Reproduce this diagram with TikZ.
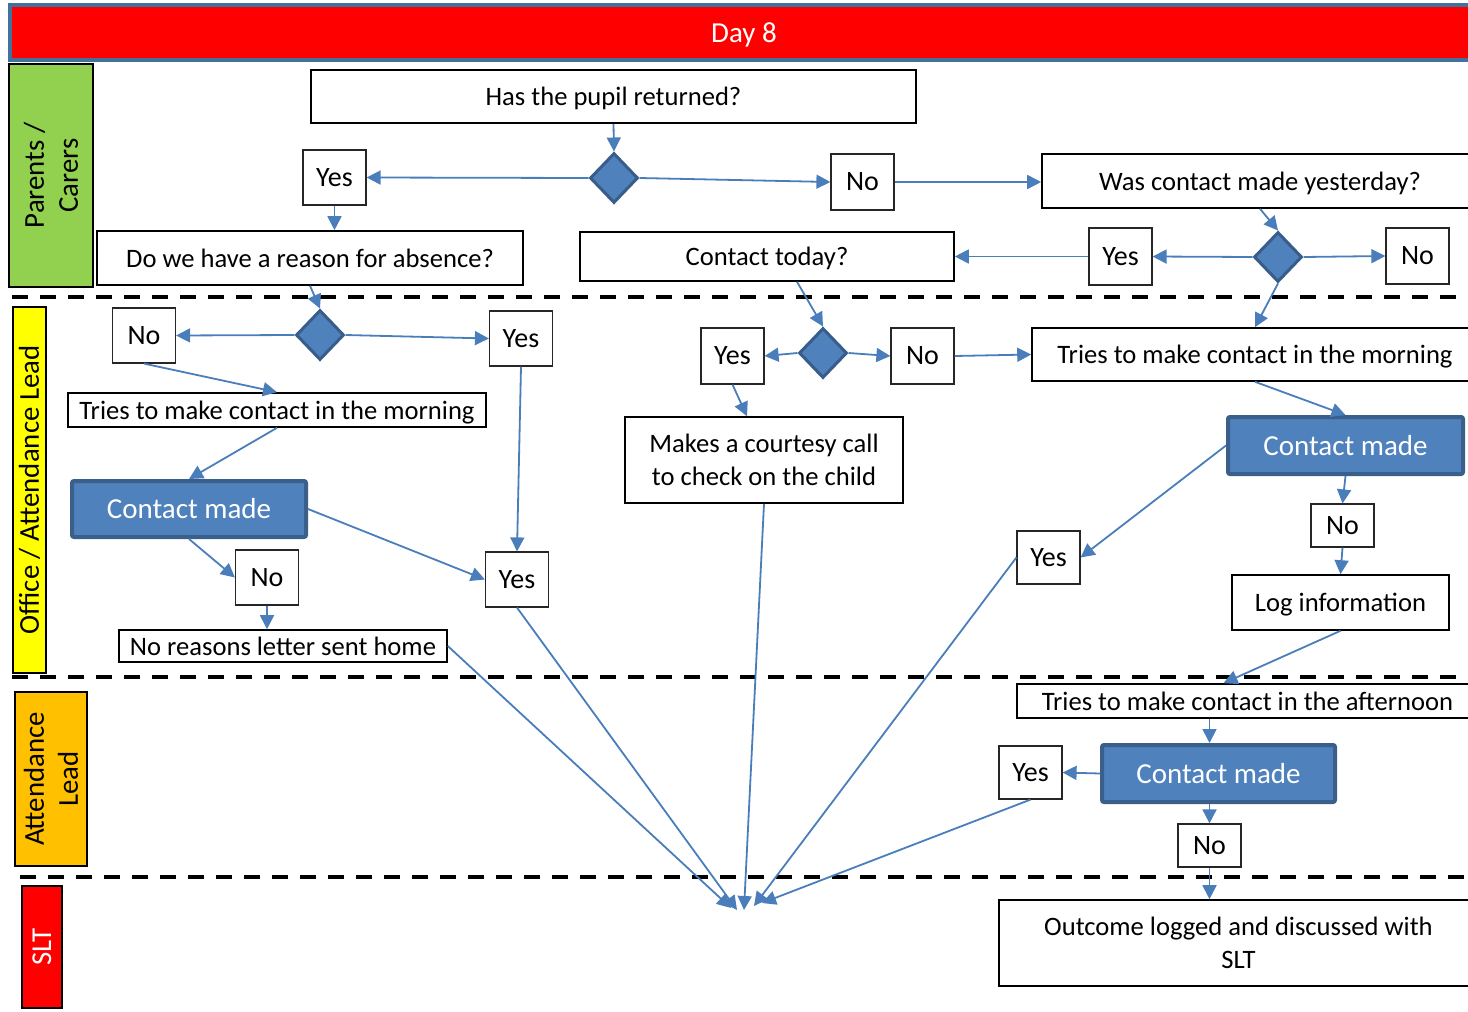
\documentclass[tikz,border=0pt]{standalone}
\usepackage{fontspec}
\setmainfont{Carlito}
\usetikzlibrary{shapes.geometric,arrows.meta}
\definecolor{flowblue}{HTML}{4A7EBB}
\definecolor{blockblue}{HTML}{4F81BD}
\definecolor{diamedge}{HTML}{385D8A}
\definecolor{madeedge}{HTML}{3A5F8B}
\definecolor{hdredge}{HTML}{41719C}
\definecolor{lanegreen}{HTML}{92D050}
\definecolor{laneyellow}{HTML}{FFFF00}
\definecolor{laneorange}{HTML}{FFC000}
\definecolor{lanered}{HTML}{FF0000}
\tikzset{
  box/.style={draw=black, line width=0.8pt, fill=white, inner sep=0pt, text depth=0pt, align=center, font=\fontsize{13.3}{16.5}\selectfont},
  yn/.style={draw=black!85, line width=0.6pt, fill=white, inner sep=0pt, minimum width=31.5pt, minimum height=27.5pt, font=\fontsize{14}{17}\selectfont},
  made/.style={draw=madeedge, line width=2pt, fill=blockblue, rounded corners=1pt, text=white, inner sep=0pt, minimum width=117pt, minimum height=28pt, font=\fontsize{14.5}{17}\selectfont},
  choice/.style={diamond, draw=diamedge, line width=1.5pt, fill=blockblue, minimum width=24pt, minimum height=25pt, inner sep=0pt},
  flow/.style={draw=flowblue, line width=0.9pt, -{Triangle[length=7pt,width=7pt]}},
  laneline/.style={draw=black, line width=2pt, dash pattern=on 8pt off 6pt},
  lane/.style={draw=black, line width=0.6pt, rotate=90, inner sep=0pt, align=center, font=\fontsize{14.4}{17}\selectfont},
}

\begin{document}
\begin{tikzpicture}[x=0.5pt, y=-0.5pt]
\useasboundingbox (0,0) rectangle (1468,1012);

% header
\node[draw=hdredge, line width=2pt, fill=red, text=white, minimum width=734pt, minimum height=27.5pt, inner sep=0pt,
      text depth=0pt, font=\fontsize{14.5}{17}\selectfont] (day) at (744,32.5) {Day 8};

% lanes
\node[lane, fill=lanegreen, minimum width=111.5pt, minimum height=42pt] (parents) at (51,175.5) {Parents /\\Carers};
\node[lane, fill=laneyellow, minimum width=183pt, minimum height=16.5pt] (office) at (29.5,490) {Office / Attendance Lead};
\node[lane, fill=laneorange, minimum width=87pt, minimum height=36pt] (attlead) at (51,779) {Attendance\\Lead};
\node[lane, fill=lanered, text=white, minimum width=61pt, minimum height=20pt] (slt) at (42,947) {SLT};
\draw[laneline] (12,297) -- (1468,297);
\draw[laneline] (12,677) -- (1468,677);
\draw[laneline] (20,877) -- (1468,877);

% parents / carers
\node[box, minimum width=302.5pt, minimum height=26.5pt] (ret) at (613.5,96.5) {Has the pupil returned?};
\node[choice] (d1) at (614,178) {};
\node[yn] (y1) at (334.5,177.5) {Yes};
\node[yn, minimum height=28pt] (n1) at (862.5,182) {No};
\node[box, minimum width=218pt, minimum height=27pt] (yest) at (1260,181) {Was contact made yesterday?};
\node[box, minimum width=213pt, minimum height=27pt] (reason) at (310,258) {Do we have a reason for absence?};
\node[box, minimum width=187pt, minimum height=24.5pt] (today) at (767,256.5) {Contact today?};
\node[yn, minimum height=28.5pt] (y2) at (1120.5,256.5) {Yes};
\node[choice] (d2) at (1278,257) {};
\node[yn, minimum height=28pt] (n2) at (1417.5,256) {No};

% office / attendance lead
\node[choice] (d3) at (320,335) {};
\node[yn] (n3) at (144,335.5) {No};
\node[yn] (y3) at (521,338.5) {Yes};
\node[box, minimum width=209pt, minimum height=17pt] (morn1) at (277,410) {Tries to make contact in the morning};
\node[made] (cm1) at (189,509) {Contact made};
\node[yn] (n4) at (267,577.5) {No};
\node[yn] (y4) at (517,579.5) {Yes};
\node[box, minimum width=164pt, minimum height=16pt] (letter) at (283,646) {No reasons letter sent home};
\node[choice] (d4) at (823,353) {};
\node[yn, minimum height=28pt] (y5) at (732.5,356) {Yes};
\node[yn, minimum height=28pt] (n5) at (922.5,356) {No};
\node[box, minimum width=139pt, minimum height=43pt] (courtesy) at (764,460) {Makes a courtesy call\\to check on the child};
\node[box, minimum width=223pt, minimum height=26.5pt] (morn2) at (1255,354.5) {Tries to make contact in the morning};
\node[made, minimum width=117.5pt, minimum height=28.5pt] (cm2) at (1345.5,445.5) {Contact made};
\node[yn, minimum height=26.5pt] (y6) at (1048.5,557.5) {Yes};
\node[yn, minimum height=21.5pt] (n6) at (1342.5,525.5) {No};
\node[box, minimum width=108.5pt, minimum height=27.5pt] (log) at (1340.5,602.5) {Log information};

% attendance lead
\node[box, minimum width=230.5pt, minimum height=17pt] (aft) at (1247.5,701) {Tries to make contact in the afternoon};
\node[made, minimum width=116.5pt, minimum height=28.5pt] (cm3) at (1218.5,773.5) {Contact made};
\node[yn, minimum height=26.5pt] (y7) at (1030.5,772.5) {Yes};
\node[yn, minimum height=21.5pt] (n7) at (1209.5,845.5) {No};

% slt
\node[box, minimum width=239.5pt, minimum height=43pt] (outcome) at (1238.5,943) {Outcome logged and discussed with\\SLT};
\coordinate (s1) at (731,908);
\coordinate (s2) at (737,910);
\coordinate (s3) at (744,910);
\coordinate (s4) at (754,906);
\coordinate (s5) at (762,903);

% connectors
\draw[flow] (ret.south) -- (d1.north);
\draw[flow] (d1.west) -- (y1.east);
\draw[flow] (d1.east) -- (n1.west);
\draw[flow] (y1.south) -- (y1.south |- reason.north);
\draw[flow] (n1.east) -- (n1.east -| yest.west);
\draw[flow] (yest.south) -- (d2.north);
\draw[flow] (d2.west) -- (y2.east);
\draw[flow] (d2.east) -- (n2.west);
\draw[flow] (y2.west) -- (today.east);
\draw[flow] (d2.south) -- (morn2.north);
\draw[flow] (reason.south) -- (d3.north);
\draw[flow] (d3.west) -- (n3.east);
\draw[flow] (d3.east) -- (y3.west);
\draw[flow] (n3.south) -- (morn1.north);
\draw[flow] (morn1.south) -- (cm1.north);
\draw[flow] (cm1.south) -- (n4.west);
\draw[flow] (cm1.east) -- (y4.west);
\draw[flow] (y3.south) -- (y4.north);
\draw[flow] (n4.south) -- (n4.south |- letter.north);
\draw[flow] ([xshift=15pt]today.south) -- (d4.north);
\draw[flow] (d4.west) -- (y5.east);
\draw[flow] (d4.east) -- (n5.west);
\draw[flow] (y5.south) -- ([xshift=-8.5pt]courtesy.north);
\draw[flow] (n5.east) -- (morn2.west);
\draw[flow] (morn2.south) -- (cm2.north);
\draw[flow] (cm2.west) -- (y6.east);
\draw[flow] (cm2.south) -- (n6.north);
\draw[flow] (n6.south) -- (log.north);
\draw[flow] (log.south) -- ([xshift=-12pt]aft.north);
\draw[flow] (aft.south -| n7.north) -- (cm3.north -| n7.north);
\draw[flow] (cm3.west) -- (y7.east);
\draw[flow] (cm3.south -| n7.north) -- (n7.north);
\draw[flow] (n7.south) -- (n7.south |- outcome.north);
\draw[flow] (letter.east) -- (s1);
\draw[flow] (y4.south) -- (s2);
\draw[flow] (courtesy.south) -- (s3);
\draw[flow] (y6.west) -- (s4);
\draw[flow] (y7.south) -- (s5);
\end{tikzpicture}
\end{document}
